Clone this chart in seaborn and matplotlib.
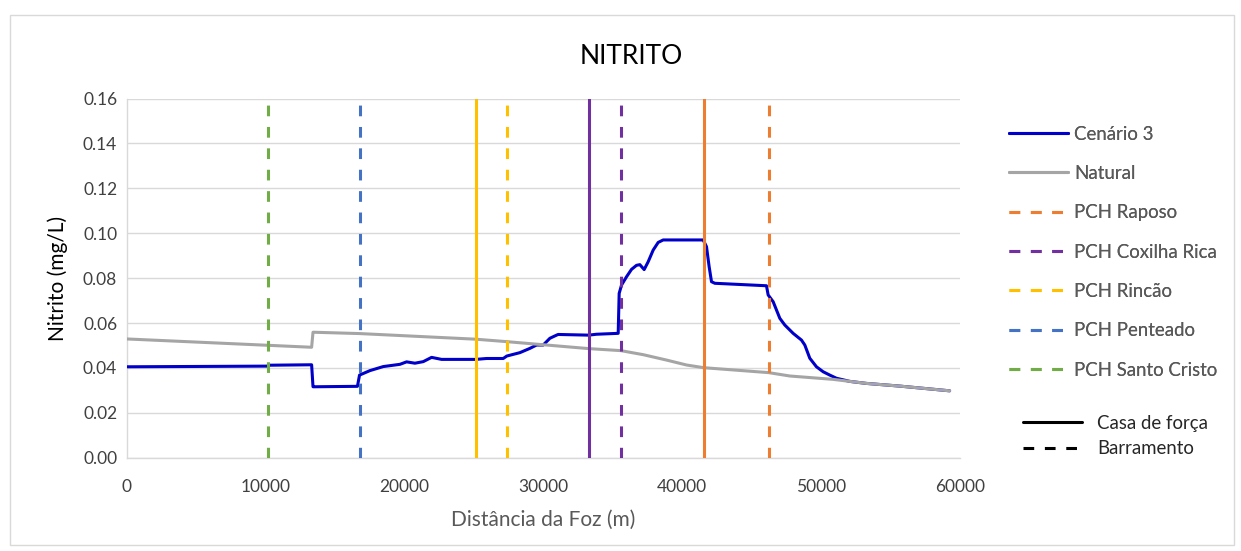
import matplotlib.pyplot as plt
import numpy as np
import pandas as pd
import seaborn as sns
from matplotlib.lines import Line2D
from matplotlib.patches import Rectangle

# Cenário 3 profile (distance from river mouth, m)
cenario_x = [0, 10150, 10200, 13300, 13400, 13500, 16600, 16750, 17500, 18460,
             19660, 20140, 20740, 21340, 21940, 22660, 25130, 25900, 27100, 27360,
             28300, 29020, 29500, 29980, 30460, 30940, 31060, 33260, 33820, 35380,
             35450, 35620, 35980, 36340, 36700, 36940, 37250, 37540, 37900, 38260,
             38620, 41500, 41740, 41930, 42100, 42340, 46060, 46180, 46540, 47020,
             47380, 47980, 48580, 48820, 49180, 49660, 50140, 50620, 51100, 52060,
             53260, 55660, 59250]
cenario_y = [0.0405, 0.0408, 0.0412, 0.0414, 0.0316, 0.0316, 0.0318, 0.0368, 0.0388, 0.0406,
             0.0416, 0.0427, 0.0421, 0.0428, 0.0447, 0.0438, 0.0438, 0.0442, 0.0442, 0.0453,
             0.0468, 0.0487, 0.0502, 0.0502, 0.0532, 0.0546, 0.0549, 0.0546, 0.0550, 0.0554,
             0.0732, 0.0769, 0.0806, 0.0839, 0.0857, 0.0860, 0.0838, 0.0873, 0.0925, 0.0959,
             0.0970, 0.0970, 0.0940, 0.0851, 0.0784, 0.0777, 0.0766, 0.0725, 0.0695, 0.0621,
             0.0591, 0.0554, 0.0524, 0.0502, 0.0443, 0.0405, 0.0383, 0.0368, 0.0354, 0.0340,
             0.0331, 0.0319, 0.0298]

natural_x = [0, 13300, 13400, 16750, 25100, 27360, 33260, 35570, 37180, 38860,
             40300, 41540, 46220, 47740, 50860, 53260, 55660, 59250]
natural_y = [0.0529, 0.0492, 0.0559, 0.0553, 0.0528, 0.0517, 0.0486, 0.0477, 0.0459, 0.0435,
             0.0413, 0.0401, 0.0379, 0.0364, 0.0349, 0.0331, 0.0319, 0.0298]

# PCH positions: powerhouse (casa de força) and dam (barramento)
pch_names = ["PCH Raposo", "PCH Coxilha Rica", "PCH Rincão", "PCH Penteado", "PCH Santo Cristo"]
pch_colors = ["#ED7D31", "#7030A0", "#FFC000", "#4472C4", "#70AD47"]
pch_casa = [41540, 33260, 25130, None, None]
pch_barramento = [46220, 35570, 27360, 16760, 10150]

TEXT = "#595959"
DASH = (0, (3.5, 3.5))

sns.set_theme(style="white")
plt.rcParams["font.family"] = ["Lato", "DejaVu Sans"]

fig = plt.figure(figsize=(12.41, 5.51), dpi=100)
fig.patches.append(Rectangle((0.008, 0.01), 0.986, 0.963, transform=fig.transFigure,
                             fill=False, edgecolor="#D9D9D9", linewidth=1))
ax = fig.add_axes([0.1023, 0.1693, 0.6713, 0.6519])

df_nat = pd.DataFrame({"x": natural_x, "y": natural_y})
df_cen = pd.DataFrame({"x": cenario_x, "y": cenario_y})
sns.lineplot(data=df_cen, x="x", y="y", ax=ax, color="#0000C8", linewidth=2.2, zorder=3)
sns.lineplot(data=df_nat, x="x", y="y", ax=ax, color="#A5A5A5", linewidth=2.2, zorder=4)

for name, color, casa, barr in zip(pch_names, pch_colors, pch_casa, pch_barramento):
    if casa is not None:
        ax.axvline(casa, color=color, linewidth=2.2, zorder=5)
    ax.axvline(barr, color=color, linewidth=2.2, linestyle=DASH, zorder=5)

ax.set_xlim(0, 60000)
ax.set_ylim(0, 0.16)
ax.set_xticks(np.arange(0, 60001, 10000))
ax.set_yticks(np.arange(0, 0.1601, 0.02))
ax.yaxis.set_major_formatter(plt.FormatStrFormatter("%.2f"))
ax.grid(axis="y", color="#D9D9D9", linewidth=1)
ax.set_axisbelow(True)
for side in ["top", "right"]:
    ax.spines[side].set_visible(False)
for side in ["left", "bottom"]:
    ax.spines[side].set_color("#D9D9D9")
    ax.spines[side].set_linewidth(1)
ax.tick_params(axis="both", colors="#404040", labelsize=12.5, length=0)
ax.tick_params(axis="x", pad=15)
ax.tick_params(axis="y", pad=7)
ax.set_xlabel("Distância da Foz (m)", fontsize=15, color=TEXT, labelpad=11)
ax.set_ylabel("Nitrito (mg/L)", fontsize=15, color="black", labelpad=11)
fig.text(0.509, 0.897, "NITRITO", ha="center", va="center", fontsize=19, color="black")

handles = [Line2D([], [], color="#0000C8", linewidth=2.2),
           Line2D([], [], color="#A5A5A5", linewidth=2.2)]
labels = ["Cenário 3", "Natural"]
for name, color in zip(pch_names, pch_colors):
    handles.append(Line2D([], [], color=color, linewidth=2.2, linestyle=DASH))
    labels.append(name)
leg1 = fig.legend(handles, labels, loc="upper left", bbox_to_anchor=(0.813, 0.772),
                  frameon=False, fontsize=13.4, handlelength=3.2, labelspacing=1.2,
                  handletextpad=0.3, borderpad=0, borderaxespad=0)
for t in leg1.get_texts():
    t.set_color(TEXT)

handles2 = [Line2D([], [], color="black", linewidth=2.2),
            Line2D([], [], color="black", linewidth=2.2, linestyle=DASH)]
leg2 = fig.legend(handles2, ["Casa de força", "Barramento"], loc="upper left",
                  bbox_to_anchor=(0.824, 0.247), frameon=False, fontsize=13.4,
                  handlelength=3.2, labelspacing=0.45, handletextpad=0.8,
                  borderpad=0, borderaxespad=0)
fig.add_artist(leg1)

fig.savefig("out.png", dpi=100)
